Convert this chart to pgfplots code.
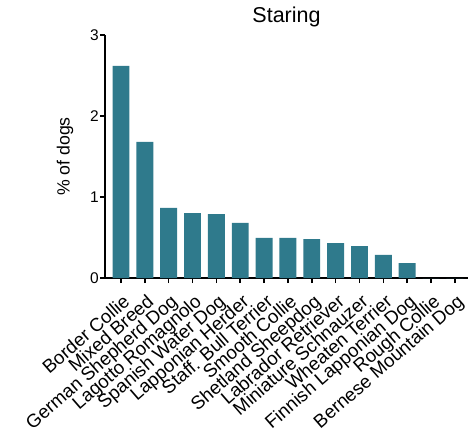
\documentclass[border=0pt]{standalone}
\usepackage{fontspec}
\setmainfont{Liberation Sans}
\usepackage{pgfplots}
\pgfplotsset{compat=1.18}
\definecolor{barteal}{RGB}{47,122,140}
\begin{document}
\begin{tikzpicture}
\useasboundingbox (-105pt,-159pt) rectangle (364pt,278pt);
\begin{axis}[
  scale only axis, width=363pt, height=243pt,
  at={(0,0)}, anchor=south west,
  xmin=-0.67, xmax=14.55, ymin=0, ymax=3,
  axis x line*=bottom, axis y line*=left,
  axis line style={line width=1.8pt, black},
  ytick={0,1,2,3},
  xtick={0,...,14},
  xticklabels={Border Collie, Mixed Breed, German Shepherd Dog, Lagotto Romagnolo, Spanish Water Dog, Lapponian Herder, Staff. Bull Terrier, Smooth Collie, Shetland Sheepdog, Labrador Retriever, Miniature Schnauzer, Wheaten Terrier, Finnish Lapponian Dog, Rough Collie, Bernese Mountain Dog},
  x tick label style={xshift=1pt, yshift=-10pt, rotate=41, anchor=north east, font=\fontsize{18.7}{18.7}\selectfont, inner sep=0pt},
  y tick label style={font=\fontsize{15.5}{15.5}\selectfont, inner sep=1pt},
  /pgf/number format/assume math mode=true,
  tick style={line width=1.5pt, black},
  tick align=outside, major tick length=5pt,
  xtick pos=bottom, ytick pos=left,
  every axis y label/.style={at={(axis description cs:0,0.5)}, xshift=-40pt, rotate=90, anchor=center, font=\fontsize{17.7}{17.7}\selectfont},
  ylabel={\% of dogs},
  title={Staring},
  title style={at={(0.5,1)}, anchor=base, yshift=7pt, font=\fontsize{21.5}{21.5}\selectfont},
  clip=false,
]
\addplot[ybar, fill=barteal, draw=none, bar width=0.71] coordinates {
(0,2.62) (1,1.68) (2,0.865) (3,0.80) (4,0.79) (5,0.68) (6,0.495) (7,0.495) (8,0.48) (9,0.43) (10,0.395) (11,0.285) (12,0.185) (13,0) (14,0)
};
\end{axis}
\end{tikzpicture}
\end{document}
